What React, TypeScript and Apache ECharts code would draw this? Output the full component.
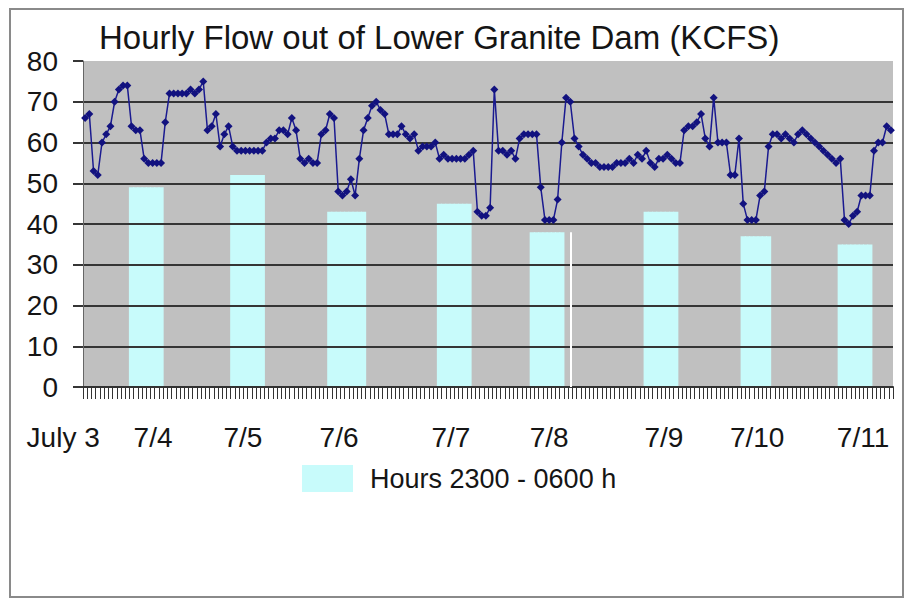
import React, { useEffect, useRef } from "react";
import * as echarts from "echarts";

// Hourly outflow (KCFS), July 3 ~12:00 through July 11 ~11:00
const hourlyFlow: number[] = [
  66, 67, 53, 52, 60, 62, 64, 70, 73, 74,
  74, 64, 63, 63, 56, 55, 55, 55, 55, 65,
  72, 72, 72, 72, 72, 73, 72, 73, 75, 63,
  64, 67, 59, 62, 64, 59, 58, 58, 58, 58,
  58, 58, 58, 60, 61, 61, 63, 63, 62, 66,
  63, 56, 55, 56, 55, 55, 62, 63, 67, 66,
  48, 47, 48, 51, 47, 56, 63, 66, 69, 70,
  68, 67, 62, 62, 62, 64, 62, 61, 62, 58,
  59, 59, 59, 60, 56, 57, 56, 56, 56, 56,
  56, 57, 58, 43, 42, 42, 44, 73, 58, 58,
  57, 58, 56, 61, 62, 62, 62, 62, 49, 41,
  41, 41, 46, 60, 71, 70, 61, 59, 57, 56,
  55, 55, 54, 54, 54, 54, 55, 55, 55, 56,
  55, 57, 56, 58, 55, 54, 56, 56, 57, 56,
  55, 55, 63, 64, 64, 65, 67, 61, 59, 71,
  60, 60, 60, 52, 52, 61, 45, 41, 41, 41,
  47, 48, 59, 62, 62, 61, 62, 61, 60, 62,
  63, 62, 61, 60, 59, 58, 57, 56, 55, 56,
  41, 40, 42, 43, 47, 47, 47, 58, 60, 60,
  64, 63,
];

// Night blocks (hours 2300 - 0600): first/last hour index and level
const nightStart: number[] = [11, 35, 58, 84, 106, 133, 156, 179];
const nightEnd: number[] = [18, 42, 66, 91, 113, 140, 162, 186];
const nightLevel: number[] = [49, 52, 43, 45, 38, 43, 37, 35];

// Date labels and their positions along the hour axis
const dayLabels: string[] = ["July 3", "7/4", "7/5", "7/6", "7/7", "7/8", "7/9", "7/10", "7/11"];
const dayLabelHour: number[] = [-4.7, 16.6, 37.9, 60.7, 87.2, 110.5, 137.7, 159.8, 184.9];

// Y axis
const yMin = 0;
const yMax = 80;
const yStep = 10;

// White seam at the right of the 7/8 block
const seamHour = 115;
const seamTop = 38;

const titleText = "Hourly Flow out of Lower Granite Dam (KCFS)";
const barName = "Hours 2300 - 0600 h";

const FONT = "'Liberation Sans', Arial, Helvetica, sans-serif";

export default function App() {
  const ref = useRef<HTMLDivElement>(null);

  useEffect(() => {
    if (!ref.current) return;
    const chart = echarts.init(ref.current, undefined, { renderer: "svg" });

    const W = 907;
    const gridLeft = 83;
    const gridRight = 14;
    const gridTop = 61;
    const gridBottom = 216;
    const labelGridLeft = 20;
    const n = hourlyFlow.length;
    const hourPx = (W - gridLeft - gridRight) / n;
    const labelMin = -(gridLeft - labelGridLeft) / hourPx;

    const categories = hourlyFlow.map((_, i) => "h" + i);
    const barData: (number | null)[] = hourlyFlow.map(() => null);
    nightStart.forEach((s, k) => {
      for (let i = s; i <= nightEnd[k]; i++) barData[i] = nightLevel[k];
    });

    const nLines = (yMax - yMin) / yStep + 1;
    const gridColors: string[] = [];
    for (let k = 0; k < nLines; k++) gridColors.push(k === nLines - 1 ? "rgba(0,0,0,0)" : "#353535");

    chart.setOption({
      animation: false,
      backgroundColor: "#ffffff",
      title: {
        text: titleText,
        left: 94,
        top: 16,
        textStyle: { fontSize: 33, fontWeight: "normal", color: "#151515", fontFamily: FONT },
      },
      legend: {
        data: [{ name: barName, icon: "rect" }],
        left: 302,
        top: 465,
        padding: 0,
        itemWidth: 51,
        itemHeight: 27,
        textStyle: { fontSize: 27, color: "#151515", fontFamily: FONT, padding: [0, 0, 0, 12] },
      },
      graphic: [
        {
          type: "rect",
          shape: { x: 10, y: 9, width: 893, height: 588 },
          style: { fill: "rgba(0,0,0,0)", stroke: "#8a8a8a", lineWidth: 2 },
          silent: true,
        },
      ],
      grid: [
        {
          left: gridLeft,
          right: gridRight,
          top: gridTop,
          bottom: gridBottom,
          show: true,
          backgroundColor: "#c0c0c0",
          borderWidth: 0,
        },
        {
          left: labelGridLeft,
          right: gridRight,
          top: gridTop,
          bottom: gridBottom,
          show: false,
        },
      ],
      xAxis: [
        {
          type: "category",
          gridIndex: 0,
          data: categories,
          boundaryGap: true,
          z: 3,
          axisLine: { show: true, lineStyle: { color: "#333", width: 2 } },
          axisTick: { show: true, interval: 0, length: 12, lineStyle: { color: "#333", width: 1 } },
          axisLabel: { show: false },
          splitLine: { show: false },
        },
        {
          type: "value",
          gridIndex: 1,
          min: labelMin,
          max: n,
          axisLine: { show: false },
          axisTick: { show: false },
          splitLine: { show: false },
          axisLabel: {
            show: true,
            customValues: dayLabelHour,
            margin: 36,
            fontSize: 28,
            color: "#151515",
            fontFamily: FONT,
            formatter: (v: number) => {
              const k = dayLabelHour.findIndex((h) => Math.abs(h - v) < 1e-6);
              return k >= 0 ? dayLabels[k] : "";
            },
          },
        },
      ],
      yAxis: [
        {
          type: "value",
          gridIndex: 0,
          min: yMin,
          max: yMax,
          interval: yStep,
          z: 3,
          axisLine: { show: true, lineStyle: { color: "#666", width: 1 } },
          axisTick: { show: true, length: 10, lineStyle: { color: "#353535", width: 2 } },
          axisLabel: { fontSize: 28, color: "#151515", margin: 25, fontFamily: FONT },
          splitLine: { show: true, lineStyle: { color: gridColors, width: 2 } },
        },
        {
          type: "value",
          gridIndex: 1,
          min: yMin,
          max: yMax,
          show: false,
        },
      ],
      series: [
        {
          name: barName,
          type: "bar",
          xAxisIndex: 0,
          yAxisIndex: 0,
          data: barData,
          barWidth: hourPx + 1,
          barGap: "0%",
          itemStyle: { color: "#c8fbfb" },
          z: 2,
          silent: true,
        },
        {
          name: "Hourly flow",
          type: "line",
          xAxisIndex: 0,
          yAxisIndex: 0,
          data: hourlyFlow,
          symbol: "diamond",
          symbolSize: 8,
          showSymbol: true,
          showAllSymbol: true,
          itemStyle: { color: "#12127f" },
          lineStyle: { color: "#1a1a90", width: 1.5 },
          z: 5,
          silent: true,
          markLine: {
            silent: true,
            symbol: ["none", "none"],
            label: { show: false },
            lineStyle: { color: "#ffffff", width: 2, type: "solid" },
            data: [[{ coord: [seamHour, yMin] }, { coord: [seamHour, seamTop] }]],
          },
        },
      ],
    });

    return () => chart.dispose();
  }, []);

  return (
    <div
      ref={ref}
      style={{ position: "absolute", left: 0, top: 0, width: 907, height: 603, background: "#fff" }}
    />
  );
}
